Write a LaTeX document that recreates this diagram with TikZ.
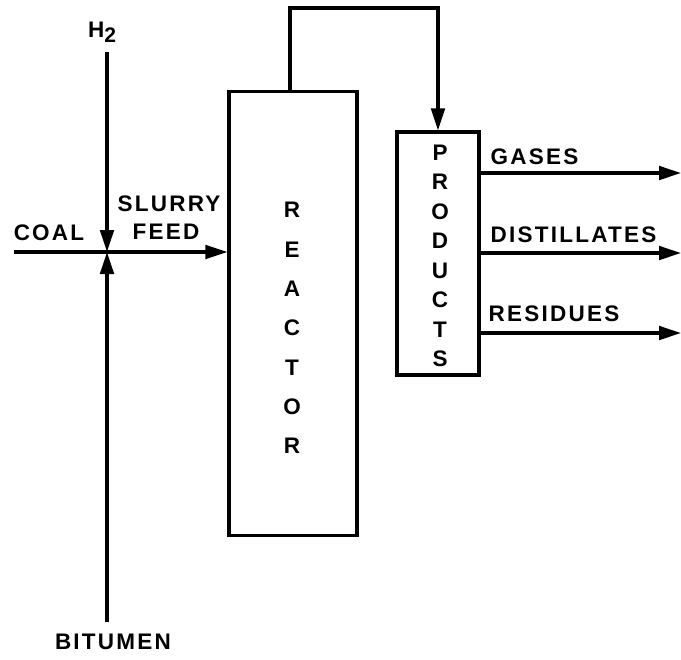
\documentclass[tikz,border=0pt]{standalone}
\usepackage{fontspec}
\usetikzlibrary{arrows.meta}
\newfontfamily\lbl[LetterSpace=10]{Liberation Sans}
\begin{document}
\begin{tikzpicture}[x=0.025cm,y=-0.025cm,line width=2.2pt,
    >={Triangle[length=5.5mm,width=3.4mm]},
    txt/.style={font=\lbl\bfseries\fontsize{16}{19}\selectfont,inner sep=0pt},
    unit/.style={draw,line width=2.2pt,inner sep=0pt}]
  \useasboundingbox (0,0) rectangle (681,659);
  % bloky: reaktor a produkty
  \node[unit,minimum width=3.2cm,minimum height=11.075cm] (reactor) at (293,313.5) {};
  \node[unit,minimum width=2.05cm,minimum height=6.075cm] (products) at (438,253.5) {};
  \node[txt,align=center,font=\lbl\bfseries\fontsize{16}{28}\selectfont] (reactortxt) at (292,328) {R\\E\\A\\C\\T\\O\\R};
  \node[txt,align=center,font=\lbl\bfseries\fontsize{16}{21}\selectfont] (productstxt) at (440,256) {P\\R\\O\\D\\U\\C\\T\\S};
  % vstupy
  \coordinate (mix) at (107,252);
  \coordinate (coalin) at (14,252);
  \coordinate (bitin) at (107,622);
  \coordinate (loop) at (0,8);
  \node[txt,anchor=south] (h2) at (102,44) {H\raisebox{-0.45ex}{\fontsize{15}{15}\selectfont 2}};
  \node[txt] (coal) at (49,233) {COAL};
  \node[txt] (slurry) at (169,204) {SLURRY};
  \node[txt] (feed) at (166,232) {FEED};
  \node[txt] (bitumen) at (113,642) {BITUMEN};
  \draw (coalin) -- (mix);
  \draw[->] (mix) -- (reactor.west |- mix);
  \draw[->] (107,52) -- (mix);
  \draw[->] (bitin) -- (mix);
  % prepad z reaktoru do produktu
  \draw[->] ([xshift=-0.075cm]reactor.north) -- ([xshift=-0.075cm]reactor.north |- loop) -| (products.north);
  % vystupy
  \coordinate (gasout) at (681,173);
  \coordinate (distout) at (681,253);
  \coordinate (resout) at (681,333);
  \draw[->] (products.east |- gasout) -- (gasout);
  \draw[->] (products.east |- distout) -- (distout);
  \draw[->] (products.east |- resout) -- (resout);
  \node[txt,anchor=west] (gases) at (489,157) {GASES};
  \node[txt,anchor=west] (distillates) at (489,235) {DISTILLATES};
  \node[txt,anchor=west] (residues) at (487,314) {RESIDUES};
\end{tikzpicture}
\end{document}
